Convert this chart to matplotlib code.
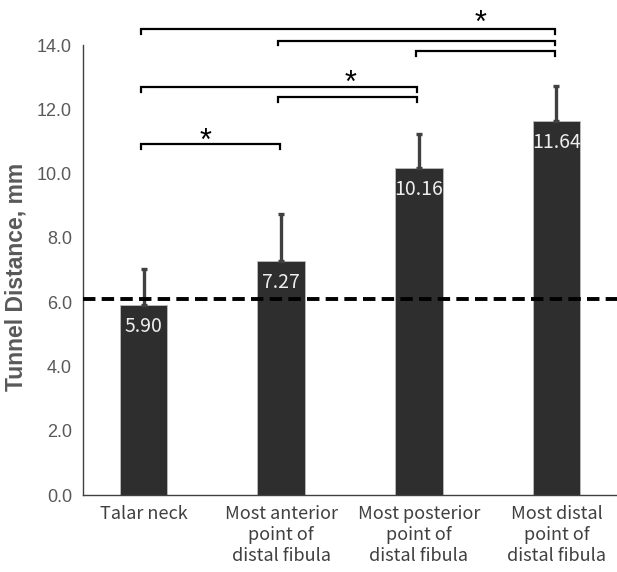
import matplotlib
matplotlib.use("Agg")
import matplotlib.pyplot as plt

categories = ["Talar neck", "Most anterior\npoint of\ndistal fibula",
              "Most posterior\npoint of\ndistal fibula", "Most distal\npoint of\ndistal fibula"]
means = [5.90, 7.27, 10.16, 11.64]
sds = [1.13, 1.47, 1.08, 1.09]
value_labels = ["5.90", "7.27", "10.16", "11.64"]
reference_line = 6.1
y_ticks = [0, 2, 4, 6, 8, 10, 12, 14]

# significance brackets: (left index, right index, height)
brackets = [(0, 3, 14.49), (1, 3, 14.13), (2, 3, 13.81),
            (0, 2, 12.68), (1, 2, 12.37), (0, 1, 10.91)]
# asterisks: (x, y)
stars = [(2.45, 14.87), (1.50, 13.0), (0.45, 11.2)]

fig = plt.figure(figsize=(6.17, 5.72), dpi=100)
ax = fig.add_axes([83/617, 77/572, 534/617, 450/572])

x = list(range(len(means)))
ax.bar(x, means, width=0.345, color="#2e2e2e", edgecolor="#bdbdbd", linewidth=0.6, zorder=2)
ax.errorbar(x, means, yerr=[[0]*len(sds), sds], fmt="none", ecolor="#404040",
            elinewidth=2.4, capsize=2.5, capthick=2.4, zorder=3)
ax.axhline(reference_line, color="black", linestyle=(0, (3.2, 1.6)), linewidth=2.8, zorder=4)

for xi, m, lab in zip(x, means, value_labels):
    ax.text(xi, m - 0.67, lab, ha="center", va="center", color="#eeeeee",
            fontsize=14, fontweight="light",
            family=["Noto Sans CJK SC", "DejaVu Sans"], zorder=5)

drop = 0.14
for l, r, h in brackets:
    xl, xr = l - 0.02, r - 0.01
    ax.plot([xl, xl, xr, xr], [h - drop, h, h, h - drop], color="black",
            linewidth=1.6, clip_on=False, solid_joinstyle="miter", zorder=6)
for sx, sy in stars:
    ax.text(sx, sy - 0.2, "*", ha="center", va="center", fontsize=22, color="black",
            family=["Liberation Sans"], clip_on=False)

ax.set_xlim(-0.44, 3.44)
ax.set_ylim(0, 14)
ax.set_yticks(y_ticks)
ax.set_yticklabels([f"{v:.1f}" for v in y_ticks], fontsize=13, color="#595959",
                   family="Liberation Sans")
ax.set_xticks(x)
ax.set_xticklabels(categories, fontsize=13, color="#404040", fontweight="light",
                   family=["Noto Sans CJK SC", "DejaVu Sans"], linespacing=1.22)
ax.tick_params(axis="y", length=0, pad=8)
ax.tick_params(axis="x", length=0, pad=7)
ax.set_ylabel("Tunnel Distance, mm", fontsize=16.5, fontweight="bold", color="#595959",
              family="Liberation Sans")
ax.yaxis.set_label_coords(-0.103, 0.485)
for s in ["top", "right"]:
    ax.spines[s].set_visible(False)
ax.spines["left"].set_color("#404040")
ax.spines["bottom"].set_color("#404040")
ax.spines["left"].set_linewidth(1.0)
ax.spines["bottom"].set_linewidth(1.0)

fig.savefig("out.png", dpi=100)
